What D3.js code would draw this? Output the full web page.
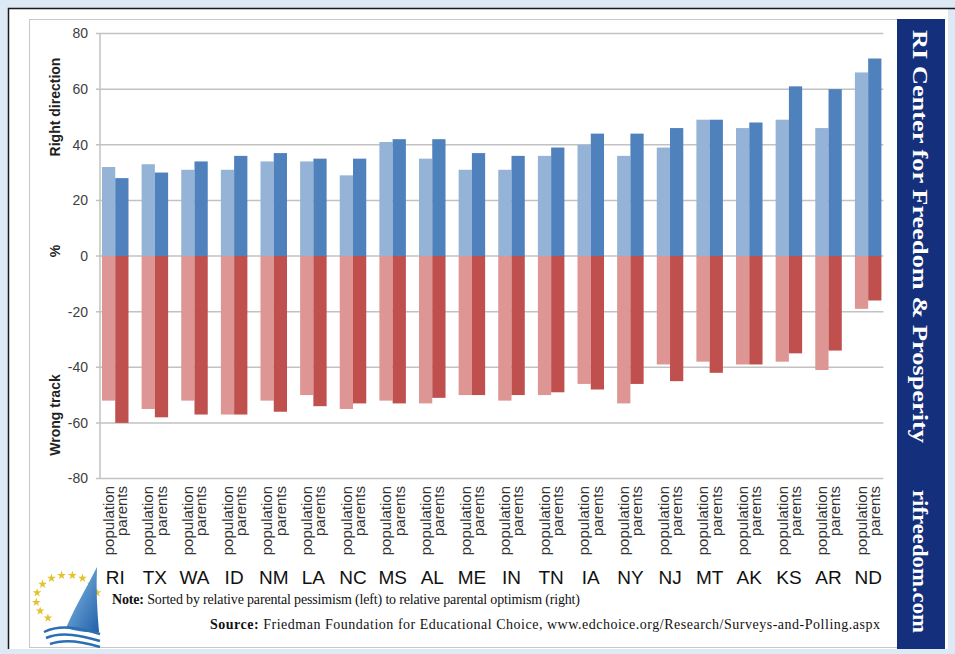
<!DOCTYPE html>
<html>
<head>
<meta charset="utf-8">
<script src="https://cdn.jsdelivr.net/npm/d3@7"></script>
<style>
  html, body { margin: 0; padding: 0; background: #dde9f5; }
  svg { display: block; }
</style>
</head>
<body>
<svg id="chart" width="955" height="654"></svg>
<script>
// Parent vs. general-population views on state direction, by state
const states = ["RI","TX","WA","ID","NM","LA","NC","MS","AL","ME","IN","TN","IA","NY","NJ","MT","AK","KS","AR","ND"];
const seriesNames = ["population", "parents"];
const rightPopulation = [32,33,31,31,34,34,29,41,35,31,31,36,40,36,39,49,46,49,46,66];
const rightParents    = [28,30,34,36,37,35,35,42,42,37,36,39,44,44,46,49,48,61,60,71];
const wrongPopulation = [-52,-55,-52,-57,-52,-50,-55,-52,-53,-50,-52,-50,-46,-53,-39,-38,-39,-38,-41,-19];
const wrongParents    = [-60,-58,-57,-57,-56,-54,-53,-53,-51,-50,-50,-49,-48,-46,-45,-42,-39,-35,-34,-16];
const yTicks = [80, 60, 40, 20, 0, -20, -40, -60, -80];

const colors = {
  rightPopulation: "#95b3d7",
  rightParents: "#4f81bd",
  wrongPopulation: "#de9694",
  wrongParents: "#c0504d"
};

const svg = d3.select("#chart");

// page frame
svg.append("rect").attr("x", 8).attr("y", 8).attr("width", 940).attr("height", 641)
  .attr("fill", "#ffffff");
svg.append("path").attr("d", "M8.5,649 V8.5 H955")
  .attr("fill", "none").attr("stroke", "#1a1a1a").attr("stroke-width", 1.5);
svg.append("rect").attr("x", 29.5).attr("y", 19.5).attr("width", 868).attr("height", 628)
  .attr("fill", "none").attr("stroke", "#c8c8c8").attr("stroke-width", 1);

// scales
const x = d3.scaleBand().domain(states).range([100, 883.4])
  .paddingInner(0.331).paddingOuter(0.05);
const xs = d3.scaleBand().domain(seriesNames).range([0, x.bandwidth()]);
const y = d3.scaleLinear().domain([-80, 80]).range([478.5, 33.5]);

// gridlines
const grid = svg.append("g");
grid.selectAll("line").data(yTicks).join("line")
  .attr("x1", 96).attr("x2", 883.4)
  .attr("y1", d => y(d)).attr("y2", d => y(d))
  .attr("stroke", "#c2c2c2").attr("stroke-width", 1.5);
svg.append("line").attr("x1", 100).attr("x2", 100)
  .attr("y1", y(80)).attr("y2", y(-80))
  .attr("stroke", "#c2c2c2").attr("stroke-width", 1.5);

// y tick labels
svg.append("g").selectAll("text").data(yTicks).join("text")
  .attr("x", 88).attr("y", d => y(d)).attr("dy", "0.35em")
  .attr("text-anchor", "end")
  .style("font-family", "Arial, 'Liberation Sans', sans-serif")
  .style("font-size", "14px").attr("fill", "#404040")
  .text(d => d);

// bars
const bars = svg.append("g");
function drawSeries(values, key, color) {
  bars.append("g").selectAll("rect").data(values).join("rect")
    .attr("x", (d, i) => x(states[i]) + xs(key))
    .attr("width", xs.bandwidth())
    .attr("y", d => y(Math.max(0, d)))
    .attr("height", d => Math.abs(y(d) - y(0)))
    .attr("fill", color);
}
drawSeries(rightPopulation, "population", colors.rightPopulation);
drawSeries(rightParents, "parents", colors.rightParents);
drawSeries(wrongPopulation, "population", colors.wrongPopulation);
drawSeries(wrongParents, "parents", colors.wrongParents);

// category labels (rotated series names + state codes)
const cats = svg.append("g")
  .style("font-family", "Arial, 'Liberation Sans', sans-serif");
states.forEach(s => {
  seriesNames.forEach(k => {
    cats.append("text")
      .attr("transform", `translate(${x(s) + xs(k) + xs.bandwidth() / 2},486) rotate(-90)`)
      .attr("dy", "0.35em")
      .attr("text-anchor", "end")
      .style("font-size", "15px").attr("fill", "#333333")
      .text(k);
  });
  cats.append("text")
    .attr("x", x(s) + x.bandwidth() / 2).attr("y", 584)
    .attr("text-anchor", "middle")
    .style("font-size", "19px").attr("fill", "#111111")
    .text(s);
});

// y axis titles
const yTitles = [["Right direction", 107], ["%", 251], ["Wrong track", 415]];
svg.append("g").selectAll("text").data(yTitles).join("text")
  .attr("transform", d => `translate(55,${d[1]}) rotate(-90)`)
  .attr("dy", "0.35em").attr("text-anchor", "middle")
  .style("font-family", "Arial, 'Liberation Sans', sans-serif")
  .style("font-size", "14px").style("font-weight", "bold").attr("fill", "#222222")
  .text(d => d[0]);

// note and source
const serif = "'Times New Roman', 'Liberation Serif', serif";
const note = svg.append("text").attr("x", 112).attr("y", 604)
  .attr("textLength", 468).attr("lengthAdjust", "spacing")
  .style("font-family", serif).style("font-size", "14px").attr("fill", "#111");
note.append("tspan").style("font-weight", "bold").text("Note:");
note.append("tspan").text(" Sorted by relative parental pessimism (left) to relative parental optimism (right)");

const source = svg.append("text").attr("x", 210).attr("y", 629)
  .attr("textLength", 670).attr("lengthAdjust", "spacing")
  .style("font-family", serif).style("font-size", "14px").attr("fill", "#111");
source.append("tspan").style("font-weight", "bold").text("Source:");
source.append("tspan").text(" Friedman Foundation for Educational Choice, www.edchoice.org/Research/Surveys-and-Polling.aspx");

// side banner
svg.append("rect").attr("x", 897).attr("y", 19).attr("width", 48).attr("height", 630)
  .attr("fill", "#142f7c");
const banner = [["RI Center for Freedom & Prosperity", 30, 413], ["rifreedom.com", 490, 143]];
svg.append("g").selectAll("text").data(banner).join("text")
  .attr("transform", d => `translate(921,${d[1]}) rotate(90)`)
  .attr("dy", "0.35em")
  .attr("textLength", d => d[2]).attr("lengthAdjust", "spacingAndGlyphs")
  .style("font-family", serif).style("font-size", "22px").style("font-weight", "bold")
  .attr("fill", "#ffffff")
  .text(d => d[0]);

// logo: ring of stars, sail and waves
const logo = svg.append("g");
const defs = svg.append("defs");
const grad = defs.append("linearGradient").attr("id", "sail")
  .attr("x1", "0").attr("y1", "0").attr("x2", "1").attr("y2", "1");
grad.append("stop").attr("offset", "0%").attr("stop-color", "#8fc3ea");
grad.append("stop").attr("offset", "100%").attr("stop-color", "#1f5fa8");
const starAngles = [-15, -38, -60, -80, -100, -120, -142, -165, -188, -210, -232];
const star = d3.symbol().type(d3.symbolStar).size(24);
logo.selectAll("path.star").data(starAngles).join("path")
  .attr("class", "star")
  .attr("d", star)
  .attr("transform", a => {
    const r = a * Math.PI / 180;
    return `translate(${67 + 31 * Math.cos(r)},${599 + 24 * Math.sin(r)})`;
  })
  .attr("fill", "#e3c22a");
logo.append("path")
  .attr("d", "M97,567 C88,585 76,605 66,628 C78,632 90,633 99,632 C97,610 96,588 97,567 Z")
  .attr("fill", "url(#sail)");
["M44,632 C60,624 80,628 100,634", "M46,638 C62,631 82,636 100,641", "M50,644 C66,638 84,642 100,647"]
  .forEach(p => logo.append("path").attr("d", p).attr("fill", "none")
    .attr("stroke", "#2a6fb5").attr("stroke-width", 2.5));
</script>
</body>
</html>
